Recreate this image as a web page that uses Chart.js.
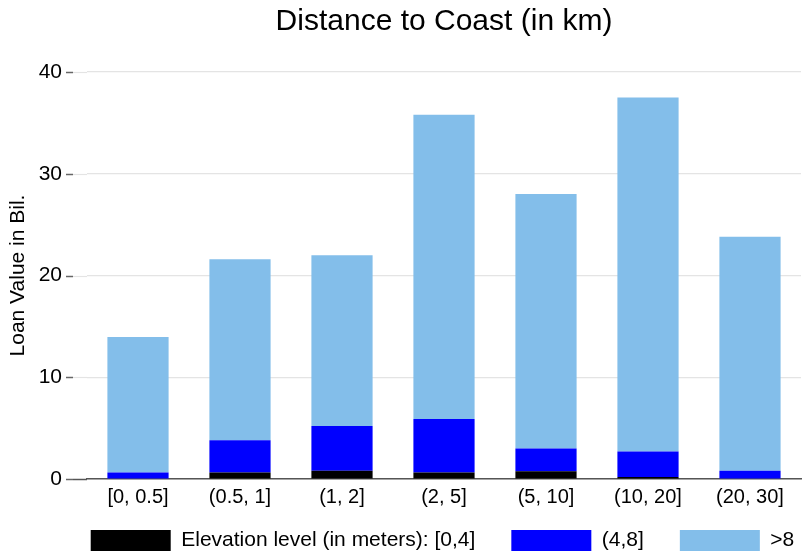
<!DOCTYPE html>
<html>
<head>
<meta charset="utf-8">
<script src="https://cdn.jsdelivr.net/npm/chart.js@4"></script>
<style>
  html, body { margin: 0; padding: 0; background: #fff; }
  #wrap { width: 803px; height: 556px; }
</style>
</head>
<body>
<div id="wrap"><canvas id="coastChart" width="803" height="556"></canvas></div>
<script>
// distance bands (km)
const categories = ['[0, 0.5]', '(0.5, 1]', '(1, 2]', '(2, 5]', '(5, 10]', '(10, 20]', '(20, 30]'];

// loan value in bil. per elevation level
const elev0to4 = [0.05, 0.65, 0.8, 0.65, 0.75, 0.2, 0.05];
const elev4to8 = [0.6, 3.15, 4.4, 5.25, 2.25, 2.5, 0.75];
const elevAbove8 = [13.3, 17.8, 16.8, 29.9, 25.0, 34.8, 23.0];

const seriesLabels = ['Elevation level (in meters): [0,4]', '(4,8]', '>8'];
const yTicks = [0, 10, 20, 30, 40];

const FONT = "'Liberation Sans', Arial, sans-serif";
const LEGEND_PAD = 36;

// grid lines in the reference run a bit left of the plot region, with a short dark tick
const extendGrid = {
  id: 'extendGrid',
  beforeDatasetsDraw(chart) {
    const { ctx, chartArea, scales } = chart;
    const y = scales.y;
    ctx.save();
    y.ticks.forEach((t, i) => {
      const py = Math.round(y.getPixelForTick(i)) + 0.5;
      ctx.beginPath();
      ctx.lineWidth = t.value === 0 ? 1.5 : 1.2;
      ctx.strokeStyle = t.value === 0 ? '#555' : '#e4e4e4';
      ctx.moveTo(73, py);
      ctx.lineTo(chartArea.left, py);
      ctx.stroke();
      ctx.beginPath();
      ctx.strokeStyle = '#666';
      ctx.lineWidth = 1.5;
      ctx.moveTo(66, py);
      ctx.lineTo(73, py);
      ctx.stroke();
    });
    ctx.restore();
  }
};

// legend sits centred under the plot region and overlaps the tick label strip a little
const moveLegend = {
  id: 'moveLegend',
  afterLayout(chart) {
    const lg = chart.legend;
    const ca = chart.chartArea;
    const dx = 442.5 - (lg.left + lg.right) / 2;
    const dy = 530 - LEGEND_PAD - lg.top;
    lg.left += dx; lg.right += dx;
    lg.top += dy; lg.bottom += dy;
  }
};

new Chart(document.getElementById('coastChart'), {
  type: 'bar',
  data: {
    labels: categories,
    datasets: [
      { label: seriesLabels[0], data: elev0to4, backgroundColor: '#000000' },
      { label: seriesLabels[1], data: elev4to8, backgroundColor: '#0000ff' },
      { label: seriesLabels[2], data: elevAbove8, backgroundColor: '#83beea' }
    ]
  },
  plugins: [extendGrid, moveLegend],
  options: {
    responsive: false,
    animation: false,
    layout: { padding: { top: 0, right: 2, bottom: -21, left: 0 } },
    datasets: {
      bar: { categoryPercentage: 1, barPercentage: 0.6 }
    },
    scales: {
      x: {
        stacked: true,
        grid: { display: false, drawTicks: false },
        border: { display: true, color: '#555', width: 1.5 },
        ticks: { color: '#000', font: { family: FONT, size: 20 }, padding: 6 },
        afterFit: (s) => { s.height = 31; }
      },
      y: {
        stacked: true,
        min: 0,
        max: 40,
        afterBuildTicks: (s) => { s.ticks = yTicks.map(v => ({ value: v })); },
        grid: { color: '#e4e4e4', lineWidth: 1.2, drawTicks: false },
        border: { display: false },
        ticks: { color: '#000', font: { family: FONT, size: 21 }, padding: 25 },
        title: {
          display: true,
          text: 'Loan Value in Bil.',
          color: '#000',
          font: { family: FONT, size: 21 },
          padding: { top: 6, bottom: 0 }
        },
        afterFit: (s) => { s.width = 87; }
      }
    },
    plugins: {
      title: {
        display: true,
        text: 'Distance to Coast (in km)',
        fullSize: false,
        color: '#000',
        font: { family: FONT, size: 30, weight: 'normal' },
        padding: { top: 4, bottom: 32 }
      },
      legend: {
        position: 'bottom',
        labels: {
          boxWidth: 80,
          boxHeight: 21,
          padding: LEGEND_PAD,
          color: '#000',
          font: { family: FONT, size: 21 }
        }
      },
      tooltip: { enabled: false }
    }
  }
});
</script>
</body>
</html>
